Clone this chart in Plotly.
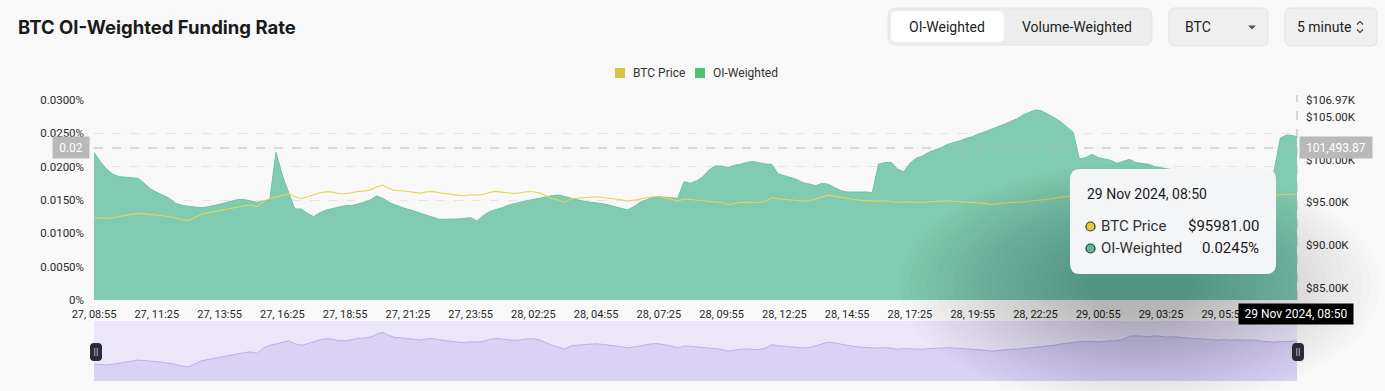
import pandas as pd
import plotly.graph_objects as go

# ---------------- data (15-minute samples) ----------------
start_time = "2024-11-27 08:55"
end_time = "2024-11-29 08:50"

oi_weighted = [  # funding rate, in %
    0.02215, 0.02075, 0.01965, 0.01885, 0.0185, 0.01845, 0.01835, 0.01825, 0.0175, 0.01665,
    0.01615, 0.01575, 0.01525, 0.0145, 0.0142, 0.01405, 0.014, 0.01385, 0.01395, 0.0141,
    0.01435, 0.0146, 0.01485, 0.0151, 0.01505, 0.0149, 0.01465, 0.01485, 0.015, 0.02215,
    0.0187, 0.01615, 0.01365, 0.01365, 0.013, 0.0125, 0.0131, 0.0135, 0.01375, 0.014,
    0.01415, 0.01415, 0.01435, 0.01465, 0.015, 0.0156, 0.01525, 0.01465, 0.01425, 0.0139,
    0.0136, 0.01335, 0.013, 0.01265, 0.0124, 0.0121, 0.0121, 0.01215, 0.01215, 0.01225,
    0.01235, 0.01185, 0.01265, 0.01325, 0.0135, 0.01385, 0.0142, 0.0145, 0.0147, 0.0149,
    0.0151, 0.0153, 0.01545, 0.01565, 0.01575, 0.01555, 0.01535, 0.01505, 0.0148, 0.0147,
    0.01455, 0.01445, 0.01425, 0.014, 0.01375, 0.0135, 0.014, 0.01465, 0.01505, 0.01535,
    0.0155, 0.01545, 0.0154, 0.01525, 0.01775, 0.0175, 0.01785, 0.0185, 0.0195, 0.0201,
    0.0201, 0.01985, 0.0202, 0.02035, 0.02065, 0.02075, 0.0206, 0.0204, 0.02035, 0.0189,
    0.01865, 0.0184, 0.01805, 0.0176, 0.01735, 0.01715, 0.0175, 0.01735, 0.01685, 0.0164,
    0.0162, 0.01615, 0.0162, 0.0162, 0.0161, 0.0204, 0.0206, 0.02065, 0.01965, 0.0192,
    0.0205, 0.02125, 0.0216, 0.02215, 0.0225, 0.02285, 0.02335, 0.0236, 0.0239, 0.02425,
    0.0245, 0.0249, 0.02525, 0.0256, 0.0259, 0.02635, 0.02675, 0.02715, 0.02775, 0.02815,
    0.0285, 0.02835, 0.0279, 0.02735, 0.02675, 0.026, 0.02515, 0.02115, 0.02135, 0.02185,
    0.02135, 0.02115, 0.02095, 0.0205, 0.02075, 0.0211, 0.0206, 0.02045, 0.02035, 0.02,
    0.0198, 0.0196, 0.0195, 0.0194, 0.0192, 0.0193, 0.0191, 0.019, 0.0189, 0.019,
    0.0188, 0.0187, 0.0188, 0.0186, 0.0187, 0.0186, 0.0188, 0.019, 0.0193, 0.02425,
    0.02475, 0.02465, 0.0245,
]

btc_price = [
    93211, 93173, 93134, 93211, 93367, 93484, 93601, 93717, 93678, 93601,
    93523, 93445, 93328, 93211, 92978, 92900, 93211, 93601, 93756, 93912,
    94068, 94185, 94301, 94457, 94613, 94690, 94496, 95157, 95469, 95624,
    95858, 96013, 95663, 95469, 95663, 95935, 96130, 96247, 96208, 96013,
    96013, 96130, 96286, 96325, 96442, 96792, 97025, 96636, 96403, 96364,
    96286, 96130, 96091, 96247, 96286, 96130, 96013, 95896, 95858, 95780,
    95896, 95858, 95935, 96169, 96290, 96208, 96130, 96052, 96130, 96247,
    96247, 96091, 95780, 95469, 95274, 95001, 95430, 95507, 95546, 95624,
    95663, 95585, 95507, 95430, 95313, 95157, 95235, 95391, 95546, 95663,
    95663, 95546, 95391, 95157, 95391, 95352, 95274, 95235, 95157, 95079,
    95001, 94768, 94924, 95001, 95040, 95001, 94962, 95157, 95546, 95430,
    95352, 95274, 95196, 95157, 95196, 95391, 95663, 95858, 95741, 95585,
    95430, 95352, 95274, 95196, 95157, 95157, 95196, 95118, 95001, 95079,
    95040, 94962, 95001, 95079, 95079, 95157, 95196, 95157, 95079, 95040,
    95001, 94962, 94885, 94768, 94846, 94962, 95001, 95001, 95079, 95118,
    95157, 95235, 95352, 95469, 95624, 95741, 95858, 95900, 95950, 95900,
    95870, 95950, 96000, 96050, 96200, 96550, 96600, 96550, 96500, 96600,
    96550, 96450, 96500, 96400, 96350, 96300, 96280, 96200, 96150, 96100,
    96150, 96100, 96120, 96080, 96150, 96100, 95950, 95900, 95850, 95900,
    95950, 95960, 95981,
]

times = list(pd.date_range(start_time, periods=len(oi_weighted) - 1, freq="15min")) + [pd.Timestamp(end_time)]

left_tick_vals = [0, 0.005, 0.01, 0.015, 0.02, 0.025, 0.03]
left_tick_text = ["0%", "0.0050%", "0.0100%", "0.0150%", "0.0200%", "0.0250%", "0.0300%"]
right_tick_vals = [85000, 90000, 95000, 100000, 105000, 106970]
right_tick_text = ["$85.00K", "$90.00K", "$95.00K", "$100.00K", "$105.00K", "$106.97K"]
x_tick_vals = list(pd.date_range(start_time, periods=19, freq="150min"))

# ---------------- geometry helpers (pixel -> paper) ----------------
W, H = 1385, 391
ML, MR, MT, MB = 94, 88, 100, 10
PW, PH = W - ML - MR, H - MT - MB


def px(x):
    return (x - ML) / PW


def py(y):
    return (H - MB - y) / PH


def rrect(x0, y0, x1, y1, r):
    X0, X1 = px(x0), px(x1)
    Y0, Y1 = py(y0), py(y1)
    rx, ry = r / PW, r / PH
    return (f"M {X0+rx},{Y0} L {X1-rx},{Y0} Q {X1},{Y0} {X1},{Y0-ry} "
            f"L {X1},{Y1+ry} Q {X1},{Y1} {X1-rx},{Y1} L {X0+rx},{Y1} "
            f"Q {X0},{Y1} {X0},{Y1+ry} L {X0},{Y0-ry} Q {X0},{Y0} {X0+rx},{Y0} Z")


shapes = []
annotations = []


def box(x0, y0, x1, y1, r, fill, line=None, layer="above"):
    shapes.append(dict(type="path", path=rrect(x0, y0, x1, y1, r), xref="paper", yref="paper",
                       fillcolor=fill, line=dict(color=line or "rgba(0,0,0,0)", width=1 if line else 0),
                       layer=layer))


def text(x, y, s, size=12, color="#333", xanchor="center", family="Roboto, sans-serif", bold=False):
    annotations.append(dict(x=px(x), y=py(y), xref="paper", yref="paper", text=(f"<b>{s}</b>" if bold else s),
                            showarrow=False, xanchor=xanchor, yanchor="middle",
                            font=dict(size=size, color=color, family=family)))


def label_box(x0, y0, x1, y1, s, bg, size=12):
    annotations.append(dict(x=px((x0 + x1) / 2), y=py((y0 + y1) / 2), xref="paper", yref="paper", text=s,
                            showarrow=False, xanchor="center", yanchor="middle", width=x1 - x0,
                            height=y1 - y0, borderpad=0, bgcolor=bg, align="center", valign="middle",
                            font=dict(size=size, color="#ffffff", family="Roboto, sans-serif")))


# ---------------- figure ----------------
fig = go.Figure()
fig.add_trace(go.Scatter(x=times, y=oi_weighted, mode="lines", name="OI-Weighted",
                         line=dict(color="#6cc3a3", width=1), fill="tozeroy", fillcolor="#80cbb1",
                         xaxis="x", yaxis="y", hoverinfo="skip"))
fig.add_trace(go.Scatter(x=times, y=btc_price, mode="lines", name="BTC Price",
                         line=dict(color="#e3d35a", width=1.1), xaxis="x", yaxis="y3", hoverinfo="skip"))
# data-zoom overview
fig.add_trace(go.Scatter(x=times, y=btc_price, mode="lines", line=dict(color="#b0a5e6", width=0.8),
                         fill="tozeroy", fillcolor="#d9d2f4", xaxis="x2", yaxis="y2", hoverinfo="skip"))

main_bottom = py(300)
mini_top = py(321)

fig.update_layout(
    width=W, height=H, margin=dict(l=ML, r=MR, t=MT, b=MB, autoexpand=False),
    paper_bgcolor="#f8f8f8", plot_bgcolor="#f8f8f8", showlegend=False,
    xaxis=dict(domain=[0, 1], anchor="y", range=[times[0], times[-1]], tickvals=x_tick_vals,
               tickformat="%d, %H:%M", tickfont=dict(family="Roboto, sans-serif", size=11, color="#2a2a2a"),
               showgrid=False, zeroline=False, showline=False, ticks="", ticklabelstandoff=6,
               automargin=False),
    yaxis=dict(domain=[main_bottom, 1], range=[0, 0.03], tickvals=left_tick_vals, ticktext=left_tick_text,
               tickfont=dict(family="Roboto, sans-serif", size=11.5, color="#2a2a2a"),
               showgrid=True, gridcolor="#e4e4e4", griddash="dash", gridwidth=1,
               zeroline=False, showline=False, ticks="", ticklabelstandoff=9, automargin=False),
    yaxis3=dict(overlaying="y", side="right", anchor="x", range=[83600, 106970], tickvals=right_tick_vals,
                ticktext=right_tick_text, tickfont=dict(family="Roboto, sans-serif", size=11.5, color="#2a2a2a"),
                showgrid=False, zeroline=False, showline=False, ticks="", ticklabelstandoff=8,
                automargin=False),
    xaxis2=dict(domain=[0, 1], anchor="y2", range=[times[0], times[-1]], visible=False, automargin=False),
    yaxis2=dict(domain=[0, mini_top], range=[91220, 98370], visible=False, automargin=False),
)

# overview band background
shapes.append(dict(type="rect", xref="paper", yref="paper", x0=0, x1=1, y0=0, y1=mini_top,
                   fillcolor="#ebe6f9", line=dict(width=0), layer="below"))

# crosshair
shapes.append(dict(type="line", xref="paper", yref="paper", x0=0, x1=1, y0=py(148), y1=py(148),
                   line=dict(color="#b5b5b5", width=1, dash="dash"), layer="above"))
shapes.append(dict(type="line", xref="paper", yref="paper", x0=1, x1=1, y0=py(300), y1=py(95),
                   line=dict(color="#b5b5b5", width=1, dash="dash"), layer="above"))

# soft tooltip shadow (stack of faint ellipses)
n_layers = 22
for i in range(n_layers):
    f = i / (n_layers - 1)
    rx, ry = 55 + 185 * f, 32 + 90 * f
    cx, cy = 1140, 285
    shapes.append(dict(type="circle", xref="paper", yref="paper", x0=px(cx - rx), x1=px(cx + rx),
                       y0=py(cy + ry), y1=py(cy - ry), fillcolor="rgba(10,30,30,0.0105)",
                       line=dict(width=0), layer="above"))

# tooltip
box(1070, 169, 1276, 274, 10, "#f4f5f7")
text(1085, 194, "29 Nov 2024, 08:50", size=14, color="#1a1a1a", xanchor="left")
shapes.append(dict(type="circle", xref="paper", yref="paper", x0=px(1086), x1=px(1095), y0=py(222), y1=py(231),
                   fillcolor="#e0cc3c", line=dict(color="#333", width=1.2)))
shapes.append(dict(type="circle", xref="paper", yref="paper", x0=px(1086), x1=px(1095), y0=py(244), y1=py(253),
                   fillcolor="#5fb89a", line=dict(color="#333", width=1.2)))
text(1099, 226, "BTC Price", size=15, color="#333", xanchor="left")
text(1099, 248, "OI-Weighted", size=15, color="#333", xanchor="left")
text(1261, 226, "$95981.00", size=15, color="#1a1a1a", xanchor="right")
text(1261, 248, "0.0245%", size=15, color="#1a1a1a", xanchor="right")

# axis pointer labels (annotations so they sit above the tick labels)
label_box(53, 137, 89, 158, "0.02", "#b9b9b9")
label_box(1300, 137, 1372, 158, "101,493.87", "#b9b9b9")
label_box(1239, 304, 1353, 324, "29 Nov 2024, 08:50", "#000000")

# overview handles
for hx in (96, 1298):
    box(hx - 6, 343, hx + 6, 361, 4, "#2b2b3a")
    shapes.append(dict(type="line", xref="paper", yref="paper", x0=px(hx - 1.2), x1=px(hx - 1.2),
                       y0=py(348), y1=py(356), line=dict(color="#cfcfdf", width=0.8)))
    shapes.append(dict(type="line", xref="paper", yref="paper", x0=px(hx + 1.2), x1=px(hx + 1.2),
                       y0=py(348), y1=py(356), line=dict(color="#cfcfdf", width=0.8)))

# title
text(16, 27, "BTC OI-Weighted Funding Rate", size=18.5, color="#1a1a1a", xanchor="left",
     family="Inter, sans-serif", bold=True)

# legend
shapes.append(dict(type="rect", xref="paper", yref="paper", x0=px(615), x1=px(625), y0=py(78), y1=py(68),
                   fillcolor="#d8c244", line=dict(width=0)))
text(631, 73, "BTC Price", size=12, color="#333", xanchor="left")
shapes.append(dict(type="rect", xref="paper", yref="paper", x0=px(695), x1=px(705), y0=py(78), y1=py(68),
                   fillcolor="#4dc370", line=dict(width=0)))
text(711, 73, "OI-Weighted", size=12, color="#333", xanchor="left")

# controls
box(888, 8, 1152, 45, 8, "#ededee", line="#e4e4e6")
box(891, 11, 1004, 42, 6, "#ffffff")
text(947, 27, "OI-Weighted", size=14, color="#222")
text(1077, 27, "Volume-Weighted", size=14, color="#222")
box(1169, 8, 1268, 46, 6, "#efeff0", line="#e2e2e4")
text(1183, 27, "BTC", size=14, color="#222", xanchor="left")
shapes.append(dict(type="path", xref="paper", yref="paper",
                   path=f"M {px(1248)},{py(25.5)} L {px(1256)},{py(25.5)} L {px(1252)},{py(29.5)} Z",
                   fillcolor="#555", line=dict(width=0)))
box(1285, 8, 1377, 46, 6, "#efeff0", line="#e2e2e4")
text(1295, 27, "5 minute", size=14, color="#222", xanchor="left")
shapes.append(dict(type="path", xref="paper", yref="paper",
                   path=f"M {px(1357)},{py(24.5)} L {px(1360)},{py(21.5)} L {px(1363)},{py(24.5)}",
                   line=dict(color="#444", width=1.2)))
shapes.append(dict(type="path", xref="paper", yref="paper",
                   path=f"M {px(1357)},{py(29.5)} L {px(1360)},{py(32.5)} L {px(1363)},{py(29.5)}",
                   line=dict(color="#444", width=1.2)))

fig.update_layout(shapes=shapes, annotations=annotations)
fig.write_html("out.html", config={"displayModeBar": False},
               post_script="document.body.style.margin='0px';document.body.style.overflow='hidden';")
